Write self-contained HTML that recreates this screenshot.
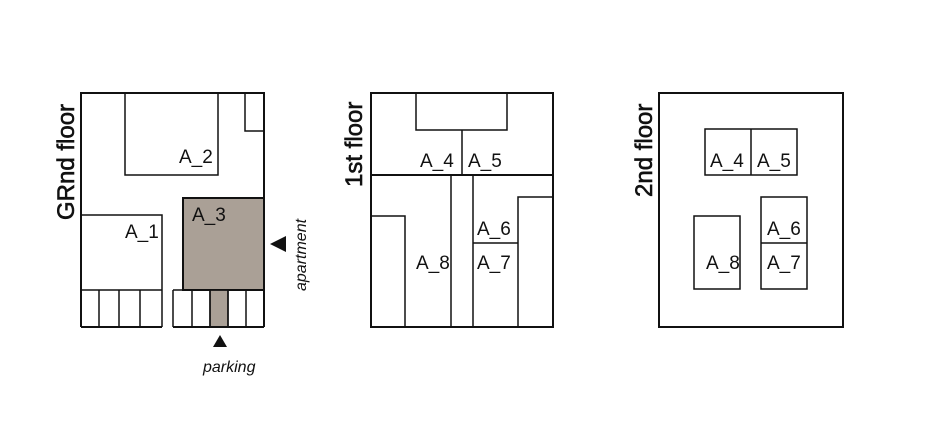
<!DOCTYPE html>
<html><head><style>
html,body{margin:0;padding:0;background:#fff;}
svg{display:block;}
text{font-family:"Liberation Sans","DejaVu Sans",sans-serif;fill:#111;}
</style></head><body>
<svg width="931" height="427" viewBox="0 0 931 427" xmlns="http://www.w3.org/2000/svg">
<g fill="none" stroke="#111" stroke-width="1.5">
<rect x="183" y="198" width="81" height="92" fill="#aaa096" stroke="#111" stroke-width="2"/>
<rect x="210" y="290" width="18" height="37" fill="#aaa096"/>
<path d="M81 327 V93 H264 V327" stroke-width="2"/>
<path d="M81 327 H162 M173 327 H264" stroke-width="2"/>
<path d="M125 93 V175 H218 V93"/>
<path d="M245 93 V131 H264"/>
<path d="M81 215 H162 V290"/>
<path d="M81 290 H162 M173 290 H264 M173 290 V327"/>
<path d="M99 290 V327 M119 290 V327 M140 290 V327 M162 290 V327"/>
<path d="M192 290 V327 M210 290 V327 M228 290 V327 M246 290 V327"/>
<rect x="371" y="93" width="182" height="234" stroke-width="2"/>
<path d="M416 93 V130 H507 V93"/>
<path d="M462 130 V175"/>
<path d="M371 175 H553" stroke-width="2"/>
<path d="M451 175 V327 M473 175 V327"/>
<path d="M371 216 H405 V327"/>
<path d="M473 243 H518"/>
<path d="M553 197 H518 V327"/>
<rect x="659" y="93" width="184" height="234" stroke-width="2"/>
<rect x="705" y="129" width="92" height="46"/>
<path d="M751 129 V175"/>
<rect x="694" y="216" width="46" height="73"/>
<rect x="761" y="197" width="46" height="92"/>
<path d="M761 243 H807"/>
</g>
<polygon points="220,335 227,347 213,347" fill="#111"/>
<polygon points="270,244 286,236 286,252" fill="#111"/>
<g font-size="19">
<text x="179" y="163">A_2</text>
<text x="192" y="221">A_3</text>
<text x="125" y="238">A_1</text>
<text x="420" y="167">A_4</text>
<text x="468" y="167">A_5</text>
<text x="477" y="235">A_6</text>
<text x="477" y="269">A_7</text>
<text x="416" y="269">A_8</text>
<text x="710" y="167">A_4</text>
<text x="757" y="167">A_5</text>
<text x="767" y="235">A_6</text>
<text x="767" y="269">A_7</text>
<text x="706" y="269">A_8</text>
</g>
<text x="203" y="372" font-size="16" font-style="italic">parking</text>
<text transform="translate(306,291) rotate(-90)" font-size="16" font-style="italic">apartment</text>
<g font-size="24" stroke="#111" stroke-width="0.6">
<text transform="translate(74,220) rotate(-90)">GRnd floor</text>
<text transform="translate(362,187) rotate(-90)">1st floor</text>
<text transform="translate(652,197) rotate(-90)">2nd floor</text>
</g>
</svg>
</body></html>
